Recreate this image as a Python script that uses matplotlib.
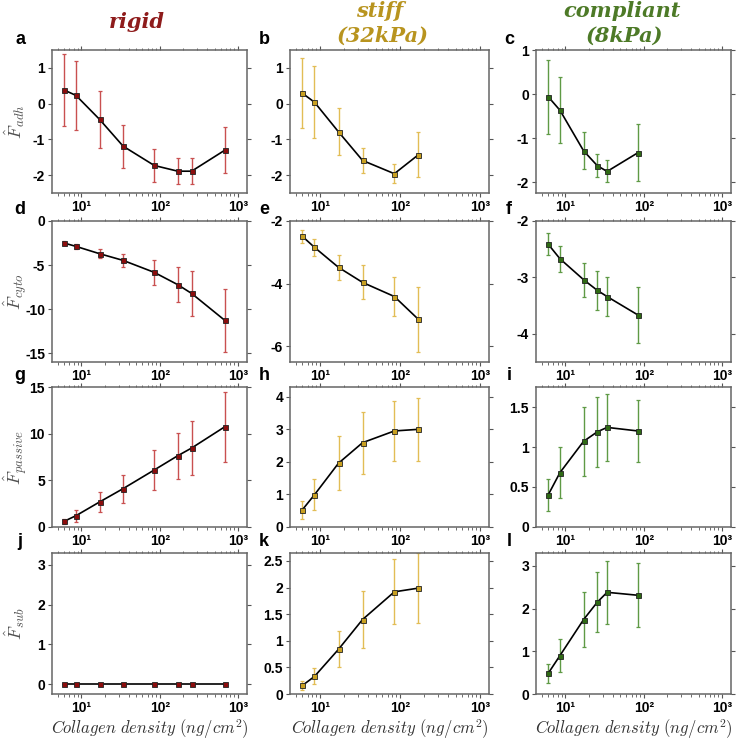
import matplotlib
matplotlib.use("Agg")
import matplotlib.pyplot as plt
from matplotlib.ticker import FixedLocator, LogLocator, NullFormatter

plt.rcParams['mathtext.fontset'] = 'cm'
plt.rcParams['axes.unicode_minus'] = False

# collagen densities (ng/cm^2) per substrate
x_rigid = [6, 8.5, 17, 34, 85, 170, 255, 680]
x_stiff = [6, 8.5, 17, 34, 85, 170]
x_compl = [6, 8.5, 17, 25.5, 34, 85]

# adhesion force
adh_rigid = [0.38, 0.23, -0.44, -1.19, -1.73, -1.89, -1.89, -1.30]
adh_rigid_err = [1.0, 0.97, 0.8, 0.6, 0.46, 0.37, 0.36, 0.65]
adh_stiff = [0.29, 0.04, -0.79, -1.59, -1.96, -1.43]
adh_stiff_err = [0.98, 1.0, 0.66, 0.35, 0.27, 0.63]
adh_compl = [-0.06, -0.37, -1.29, -1.63, -1.76, -1.33]
adh_compl_err = [0.84, 0.75, 0.42, 0.26, 0.25, 0.65]

# cytoskeletal force
cyto_rigid = [-2.5, -2.88, -3.71, -4.47, -5.83, -7.23, -8.22, -11.29]
cyto_rigid_err = [0.2, 0.3, 0.5, 0.7, 1.4, 2.0, 2.6, 3.6]
cyto_stiff = [-2.49, -2.84, -3.48, -3.96, -4.41, -5.14]
cyto_stiff_err = [0.2, 0.27, 0.41, 0.54, 0.63, 1.04]
cyto_compl = [-2.41, -2.67, -3.04, -3.23, -3.34, -3.67]
cyto_compl_err = [0.19, 0.23, 0.3, 0.34, 0.35, 0.5]

# passive force
pass_rigid = [0.61, 1.21, 2.68, 4.11, 6.11, 7.64, 8.46, 10.75]
pass_rigid_err = [0.3, 0.64, 1.1, 1.5, 2.14, 2.48, 2.9, 3.75]
pass_stiff = [0.53, 0.99, 1.96, 2.59, 2.95, 3.0]
pass_stiff_err = [0.28, 0.48, 0.82, 0.95, 0.92, 0.96]
pass_compl = [0.40, 0.68, 1.07, 1.19, 1.245, 1.20]
pass_compl_err = [0.2, 0.32, 0.43, 0.44, 0.42, 0.39]

# substrate force
sub_rigid = [0, 0, 0, 0, 0, 0, 0, 0]
sub_rigid_err = [0, 0, 0, 0, 0, 0, 0, 0]
sub_stiff = [0.16, 0.33, 0.84, 1.40, 1.92, 1.99]
sub_stiff_err = [0.08, 0.15, 0.34, 0.53, 0.61, 0.66]
sub_compl = [0.48, 0.90, 1.74, 2.15, 2.38, 2.31]
sub_compl_err = [0.22, 0.38, 0.64, 0.7, 0.73, 0.75]

ylabels = [r'$\hat{F}_{adh}$', r'$\hat{F}_{cyto}$', r'$\hat{F}_{passive}$', r'$\hat{F}_{sub}$']
letters = ['a', 'b', 'c', 'd', 'e', 'f', 'g', 'h', 'i', 'j', 'k', 'l']

# (mean, err) grid: rows = force, cols = substrate
data = [
    [(adh_rigid, adh_rigid_err), (adh_stiff, adh_stiff_err), (adh_compl, adh_compl_err)],
    [(cyto_rigid, cyto_rigid_err), (cyto_stiff, cyto_stiff_err), (cyto_compl, cyto_compl_err)],
    [(pass_rigid, pass_rigid_err), (pass_stiff, pass_stiff_err), (pass_compl, pass_compl_err)],
    [(sub_rigid, sub_rigid_err), (sub_stiff, sub_stiff_err), (sub_compl, sub_compl_err)],
]
xs = [x_rigid, x_stiff, x_compl]

ylims = [
    [(-2.5, 1.5), (-2.5, 1.5), (-2.25, 1.0)],
    [(-16, 0), (-6.5, -2), (-4.5, -2)],
    [(0, 15), (0, 4.3), (0, 1.75)],
    [(-0.25, 3.3), (0, 2.65), (0, 3.3)],
]
yticks = [
    [[-2, -1, 0, 1], [-2, -1, 0, 1], [-2, -1, 0, 1]],
    [[-15, -10, -5, 0], [-6, -4, -2], [-4, -3, -2]],
    [[0, 5, 10, 15], [0, 1, 2, 3, 4], [0, 0.5, 1, 1.5]],
    [[0, 1, 2, 3], [0, 0.5, 1, 1.5, 2, 2.5], [0, 1, 2, 3]],
]

title_colors = ['#8e1b1b', '#b8941f', '#4d7a27']
err_colors = ['#c95050', '#e2bd55', '#5f9a45']
face_colors = ['#8b0d0d', '#c9a020', '#2f6a14']

W, H = 736, 741
col_left = [52, 290, 536]
col_width = [195, 199, 195]
row_top = [50, 221, 387, 553]
row_bot = [193, 362, 527, 694]

fig = plt.figure(figsize=(W / 100, H / 100), dpi=100)

tickfont = {'family': 'Liberation Sans', 'weight': 'bold', 'size': 10}

for r in range(4):
    for c in range(3):
        ax = fig.add_axes([col_left[c] / W, 1 - row_bot[r] / H,
                           col_width[c] / W, (row_bot[r] - row_top[r]) / H])
        y, e = data[r][c]
        ax.errorbar(xs[c], y, yerr=e, fmt='none', ecolor=err_colors[c],
                    elinewidth=1.0, capsize=1.6, capthick=0.9, zorder=1)
        ax.plot(xs[c], y, color='black', lw=1.2, marker='s', ms=3.6,
                mfc=face_colors[c], mec='#222222', mew=0.6, zorder=2)

        ax.set_xscale('log')
        ax.set_xlim(4.2, 1300)
        ax.xaxis.set_major_locator(FixedLocator([10, 100, 1000]))
        ax.xaxis.set_minor_locator(LogLocator(base=10, subs=range(2, 10)))
        ax.xaxis.set_minor_formatter(NullFormatter())
        ax.set_xticklabels(['10\u00b9', '10\u00b2', '10\u00b3'], fontdict=tickfont)

        ax.set_ylim(*ylims[r][c])
        ax.set_yticks(yticks[r][c])
        ax.set_yticklabels(['%g' % t for t in yticks[r][c]], fontdict=tickfont)

        ax.tick_params(which='both', direction='out', top=True, right=True,
                       color='#555555', pad=2)
        ax.tick_params(which='major', length=3)
        ax.tick_params(which='minor', length=1.8)
        for s in ax.spines.values():
            s.set_color('#666666')
            s.set_linewidth(1.1)

        if c == 0:
            ax.set_ylabel(ylabels[r], fontsize=13, color='#505050', va='center')
            ax.yaxis.set_label_coords(-0.19, 0.5)
        if r == 3:
            ax.set_xlabel(r'$Collagen\ density\ (ng/cm^2)$', fontsize=12,
                          color='#333333', va='center')
            ax.xaxis.set_label_coords(0.5, -(729 - row_bot[r]) / (row_bot[r] - row_top[r]))

        lx = [20, 264, 509][c]
        fig.text(lx / W, 1 - (row_top[r] - 11) / H, letters[r * 3 + c],
                 family='Liberation Sans', weight='bold', fontsize=13,
                 ha='center', va='center')

# column titles
tkw = dict(family='DejaVu Serif', weight='bold', style='italic', fontsize=15,
           ha='center', va='center')
fig.text(137 / W, 1 - 22 / H, 'rigid', color=title_colors[0], **tkw)
fig.text(380 / W, 1 - 11 / H, 'stiff', color=title_colors[1], **tkw)
fig.text(383 / W, 1 - 36 / H, '(32kPa)', color=title_colors[1], **tkw)
fig.text(622 / W, 1 - 11 / H, 'compliant', color=title_colors[2], **tkw)
fig.text(624 / W, 1 - 36 / H, '(8kPa)', color=title_colors[2], **tkw)

fig.savefig('out.png', dpi=100)
